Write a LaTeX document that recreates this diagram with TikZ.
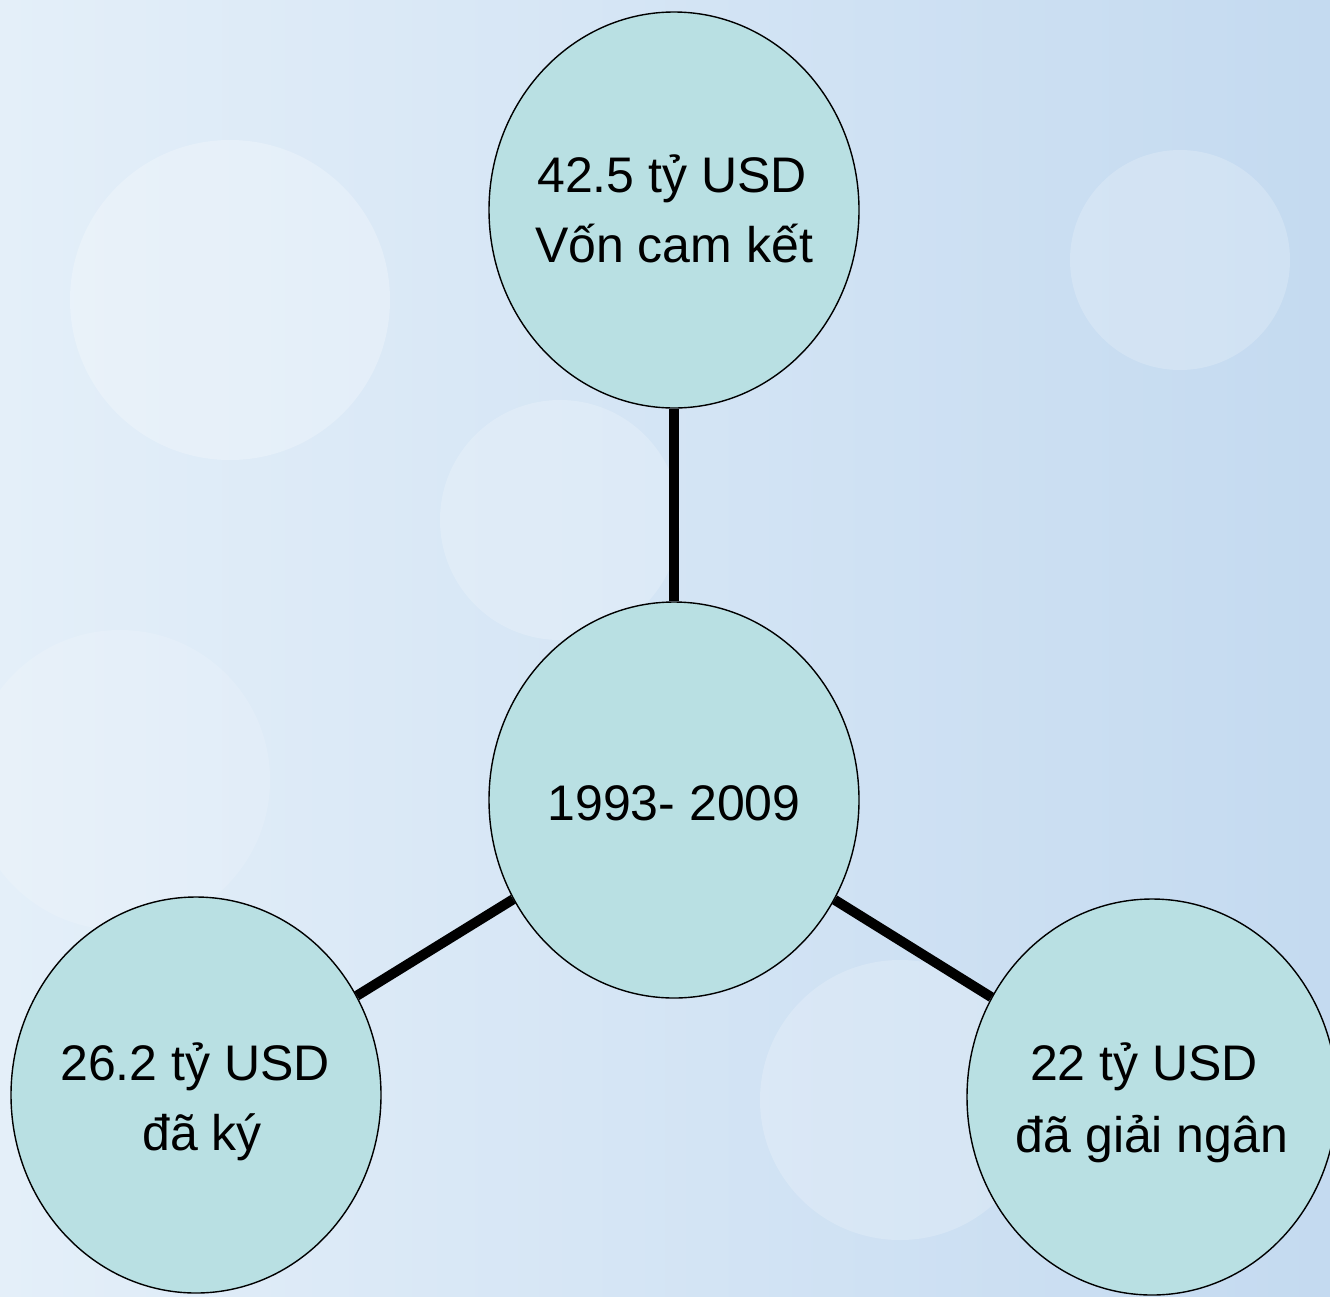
\documentclass[tikz,border=0pt]{standalone}
\usepackage{fontspec}
\setmainfont{Liberation Sans}
\usetikzlibrary{shapes.geometric}
\definecolor{bubble}{RGB}{185,224,227}
\definecolor{bgA}{RGB}{228,239,249}
\definecolor{bgB}{RGB}{196,218,240}
\tikzset{
  bub/.style={ellipse, draw=black, line width=1.4pt, fill=bubble, inner sep=0pt,
    minimum width=370pt, minimum height=396pt},
  txt/.style={align=center, inner sep=0pt, font=\fontsize{50}{70}\selectfont},
  link/.style={line width=10pt, black}
}
\begin{document}
\begin{tikzpicture}[x=1pt,y=-1pt]
\useasboundingbox (0,0) rectangle (1330,1296);
\clip (0,0) rectangle (1330,1296);
\shade[left color=bgA, right color=bgB] (0,0) rectangle (1330,1296);
\fill[white, opacity=0.25] (230,300) circle (160);
\fill[white, opacity=0.2] (1180,260) circle (110);
\fill[white, opacity=0.2] (560,520) circle (120);
\fill[white, opacity=0.15] (120,780) circle (150);
\fill[white, opacity=0.2] (900,1100) circle (140);
\node[bub] (top) at (674,210) {};
\node[bub] (mid) at (674,800) {};
\node[bub] (left) at (196,1095) {};
\node[bub] (right) at (1152,1097) {};
\node[txt, anchor=base] (topA) at (672,192) {42.5 tỷ USD};
\node[txt, anchor=base] (topB) at (674,262) {Vốn cam kết};
\node[txt, anchor=base] (midA) at (674,820) {1993- 2009};
\node[txt, anchor=base] (leftA) at (195,1080) {26.2 tỷ USD};
\node[txt, anchor=base] (leftB) at (202,1150) {đã ký};
\node[txt, anchor=base] (rightA) at (1144,1080) {22 tỷ USD};
\node[txt, anchor=base] (rightB) at (1152,1152) {đã giải ngân};
\draw[link] (top) -- (mid);
\draw[link] (mid) -- (left);
\draw[link] (mid) -- (right);
\end{tikzpicture}
\end{document}
